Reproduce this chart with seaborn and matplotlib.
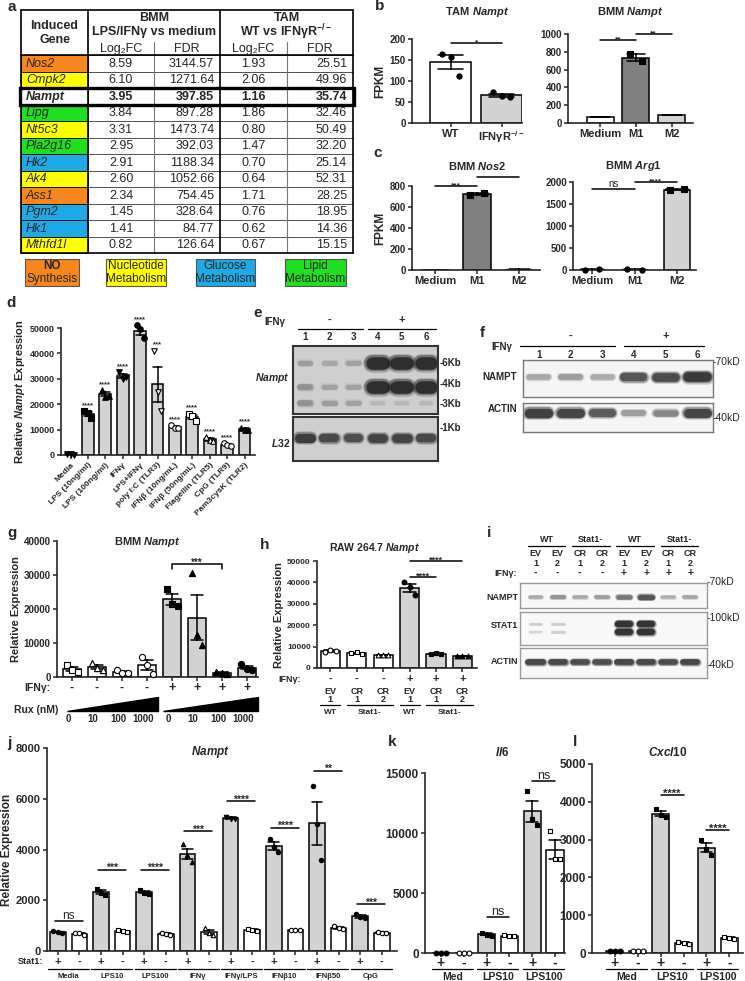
import numpy as np
import pandas as pd
import matplotlib
matplotlib.use("Agg")
import matplotlib.pyplot as plt
from matplotlib.patches import Rectangle
import seaborn as sns

# ---------------- data ----------------
# a: induced genes table
genes = ['Nos2', 'Cmpk2', 'Nampt', 'Lipg', 'Nt5c3', 'Pla2g16', 'Hk2', 'Ak4',
         'Ass1', 'Pgm2', 'Hk1', 'Mthfd1l']
gene_class = ['NO', 'Nuc', 'none', 'Lipid', 'Nuc', 'Lipid', 'Glu', 'Nuc',
              'NO', 'Glu', 'Glu', 'Nuc']
bmm_log2fc = [8.59, 6.10, 3.95, 3.84, 3.31, 2.95, 2.91, 2.60, 2.34, 1.45, 1.41, 0.82]
bmm_fdr = [3144.57, 1271.64, 397.85, 897.28, 1473.74, 392.03, 1188.34, 1052.66,
           754.45, 328.64, 84.77, 126.64]
tam_log2fc = [1.93, 2.06, 1.16, 1.86, 0.80, 1.47, 0.70, 0.64, 1.71, 0.76, 0.62, 0.67]
tam_fdr = [25.51, 49.96, 35.74, 32.46, 50.49, 32.20, 25.14, 52.31, 28.25, 18.95,
           14.36, 15.15]
class_colors = {'NO': '#F7861C', 'Nuc': '#FFFF00', 'Glu': '#1EAAE7',
                'Lipid': '#1FE01F', 'none': 'white'}
legend_classes = ['NO', 'Nuc', 'Glu', 'Lipid']
legend_text = {'NO': ('NO', 'Synthesis'), 'Nuc': ('Nucleotide', 'Metabolism'),
               'Glu': ('Glucose', 'Metabolism'), 'Lipid': ('Lipid', 'Metabolism')}

# b / c: FPKM
tam_groups = ['WT', 'IFNγR$^{-/-}$']
tam_vals = [[165, 157, 113], [73, 64, 62]]
bmm_groups = ['Medium', 'M1', 'M2']
bmm_nampt = [[72, 68], [770, 700], [92, 88]]
bmm_nos2 = [[2, 3], [715, 735], [4, 5]]
bmm_arg1 = [[10, 12], [12, 10], [1810, 1845]]

# d: stimuli
d_labels = ['Media', 'LPS (10ng/ml)', 'LPS (100ng/ml)', 'IFNγ', 'LPS+IFNγ',
            'poly I:C (TLR3)', 'IFNβ (10ng/mL)', 'IFNβ (50ng/mL)',
            'Flagellin (TLR5)', 'CpG (TLR9)', 'Pam3cysK (TLR2)']
d_vals = [[300, 200, 100], [17200, 16500, 14500], [25500, 23000, 23200],
          [32500, 30000, 30700], [51000, 49500, 46000], [41000, 25000, 17500],
          [11800, 10800, 10600], [16200, 15200, 13200], [7100, 6000, 5400],
          [4600, 4000, 3600], [10800, 10000, 9800]]
d_stars = ['', '****', '****', '****', '****', '***', '****', '****', '****',
           '****', '****']
d_markers = ['v', 's', '^', 'v', 'o', 'v', 'o', 's', '^', 'o', '^']
d_mfill = [True, True, True, True, True, False, False, False, False, False, True]

# e / f / i: blot band intensities (0..1)
e_nampt_6kb = [0.22, 0.18, 0.2, 1.0, 1.0, 1.0]
e_nampt_4kb = [0.28, 0.2, 0.2, 1.0, 1.0, 1.0]
e_nampt_3kb = [0.28, 0.22, 0.2, 0.1, 0.1, 0.1]
e_l32 = [0.85, 0.75, 0.7, 0.8, 0.8, 0.75]
f_nampt = [0.3, 0.35, 0.28, 0.75, 0.8, 0.95]
f_actin = [0.9, 0.85, 0.7, 0.35, 0.45, 0.85]
i_nampt = [0.3, 0.4, 0.3, 0.35, 0.55, 0.75, 0.28, 0.32]
i_stat1_up = [0.15, 0.15, 0, 0, 1.0, 1.0, 0, 0]
i_stat1_low = [0.12, 0.15, 0, 0, 1.0, 1.0, 0, 0]
i_actin = [0.85, 0.85, 0.8, 0.8, 0.85, 0.85, 0.8, 0.85]
i_geno = ['WT', 'Stat1-', 'WT', 'Stat1-']
i_vec = ['EV', 'EV', 'CR', 'CR', 'EV', 'EV', 'CR', 'CR']
i_num = ['1', '2', '1', '2', '1', '2', '1', '2']
i_ifn = ['-', '-', '-', '-', '+', '+', '+', '+']

# g: ruxolitinib
g_vals = [[3500, 2000, 1500], [4000, 2600, 2000], [2100, 1300, 1100],
          [6000, 3500, 1000], [26000, 21500, 21000], [30500, 12500, 9500],
          [1500, 1200, 1000], [3800, 2500, 2000]]
g_ifn = ['-', '-', '-', '-', '+', '+', '+', '+']
g_rux = ['0', '10', '100', '1000', '0', '10', '100', '1000']
g_markers = ['s', '^', 'o', 'o', 's', '^', '^', 'o']
g_mfill = [False, False, False, False, True, True, True, True]

# h: RAW 264.7
h_vals = [[7500, 8500, 7900], [7000, 7400, 6500], [6100, 5900, 6200],
          [40000, 38000, 34000], [6500, 6800, 6600], [5600, 5500, 5800]]
h_ifn = ['-', '-', '-', '+', '+', '+']
h_vec = ['EV', 'CR', 'CR', 'EV', 'CR', 'CR']
h_num = ['1', '1', '2', '1', '1', '2']
h_geno = [(0, 0, 'WT'), (1, 2, 'Stat1-'), (3, 3, 'WT'), (4, 5, 'Stat1-')]
h_markers = ['o', 's', '^', 'o', 's', '^']
h_mfill = [False, False, False, True, True, True]

# j: Nampt, Stat1 +/-
j_groups = ['Media', 'LPS10', 'LPS100', 'IFNγ', 'IFNγ/LPS', 'IFNβ10', 'IFNβ50', 'CpG']
j_pos = [[780, 750, 720], [2450, 2300, 2200], [2420, 2300, 2250], [4200, 3800, 3500],
         [5300, 5200, 5200], [4400, 4100, 3900], [6500, 5000, 3600], [1450, 1330, 1300]]
j_neg = [[700, 690, 650], [820, 780, 760], [720, 680, 650], [900, 700, 650],
         [870, 820, 780], [840, 830, 830], [1000, 900, 870], [750, 720, 710]]
j_sig = ['ns', '***', '****', '***', '****', '****', '**', '***']
j_sig_y = [1180, 3200, 3200, 4730, 5900, 4850, 7100, 1850]

# k / l
kl_groups = ['Med', 'LPS10', 'LPS100']
k_pos = [[30, 25, 20], [1700, 1500, 1450], [13500, 11200, 10700]]
k_neg = [[20, 25, 20], [1500, 1450, 1400], [10200, 7800, 7800]]
k_sig = ['', 'ns', 'ns']
k_sig_y = [0, 3000, 14300]
l_pos = [[60, 50, 55], [3800, 3650, 3600], [3000, 2750, 2600]]
l_neg = [[60, 55, 50], [300, 270, 250], [430, 400, 380]]
l_sig = ['', '****', '****']
l_sig_y = [0, 4180, 3250]

GRAY = '#d3d3d3'

# ---------------- style ----------------
sns.set_style("ticks")
plt.rcParams['font.family'] = ['Liberation Sans', 'DejaVu Sans']
plt.rcParams['font.weight'] = 'bold'
plt.rcParams['axes.labelweight'] = 'bold'
plt.rcParams['mathtext.fontset'] = 'custom'
plt.rcParams['mathtext.rm'] = 'Liberation Sans:bold'
plt.rcParams['mathtext.it'] = 'Liberation Sans:italic:bold'
plt.rcParams['mathtext.bf'] = 'Liberation Sans:bold'
plt.rcParams['mathtext.default'] = 'rm'

W, H = 745, 981
fig = plt.figure(figsize=(7.45, 9.81), dpi=100)

ov = fig.add_axes([0, 0, 1, 1])
ov.set_xlim(0, W)
ov.set_ylim(H, 0)
ov.axis('off')


def add_ax(x0, y0, x1, y1):
    ax = fig.add_axes([x0 / W, 1 - y1 / H, (x1 - x0) / W, (y1 - y0) / H])
    ax.px = (x0, y0, x1, y1)
    ax.set_facecolor('none')
    return ax


def fy(ax, py):
    x0, y0, x1, y1 = ax.px
    return (y1 - py) / (y1 - y0)


def under(ax, x, py, s, **kw):
    ax.text(x, fy(ax, py), s, transform=ax.get_xaxis_transform(), ha='center',
            va='center', clip_on=False, **kw)


def uline(ax, xa, xb, py, lw=0.9):
    ax.plot([xa, xb], [fy(ax, py)] * 2, transform=ax.get_xaxis_transform(),
            color='k', lw=lw, clip_on=False)


def bar_points(ax, vals, fills, markers, mfill, width=0.72, ms=14, jit=0.17):
    keys = [f'g{i}' for i in range(len(vals))]
    df = pd.DataFrame([(k, v) for k, vs in zip(keys, vals) for v in vs],
                      columns=['grp', 'val'])
    sns.barplot(data=df, x='grp', y='val', hue='grp', order=keys, hue_order=keys,
                palette=dict(zip(keys, fills)), legend=False, errorbar='se',
                capsize=0.5, width=width, saturation=1, edgecolor='k', linewidth=1.1,
                err_kws={'color': 'k', 'linewidth': 1.1}, ax=ax)
    for i, vs in enumerate(vals):
        if markers[i] is None:
            continue
        off = np.linspace(-jit, jit, len(vs))
        ax.scatter(i + off, vs, marker=markers[i], s=ms,
                   facecolors='k' if mfill[i] else 'white', edgecolors='k',
                   linewidths=0.8, zorder=4, clip_on=False)


def prism(ax, ylim, yticks, xlim, n, fs=7):
    ax.set_xlim(*xlim)
    ax.set_ylim(*ylim)
    ax.set_yticks(yticks, [f'{t:g}' for t in yticks])
    ax.set_xticks(range(n), [''] * n)
    sns.despine(ax=ax)
    for s in ['left', 'bottom']:
        ax.spines[s].set_linewidth(1.2)
    ax.tick_params(axis='both', direction='out', length=3, width=1.1, pad=1.5,
                   labelsize=fs)
    ax.set_xlabel('')
    ax.set_ylabel('')


def sig(ax, x1, x2, y, txt, fs=6, drop=0, ext=0.0):
    ax.plot([x1 - ext, x1 - ext, x2 + ext, x2 + ext], [y - drop, y, y, y - drop],
            color='k', lw=1.1, clip_on=False)
    if txt == 'ns':
        ax.annotate(txt, ((x1 + x2) / 2, y), xytext=(0, 1.5), textcoords='offset points',
                    ha='center', va='baseline', fontsize=fs + 1, weight='normal')
    else:
        ax.annotate(txt, ((x1 + x2) / 2, y), xytext=(0, -1), textcoords='offset points',
                    ha='center', va='baseline', fontsize=fs)


def blot(box, rows, ypos, bg, lwb, lwg, half=0.3, edge='#666', elw=1.0, xlim=None):
    ax = add_ax(*box)
    n = len(rows[0])
    ax.set_xlim(*(xlim or (0.5, n + 0.5)))
    ax.set_ylim(1, 0)
    ax.set_facecolor(bg)
    ax.set_xticks([])
    ax.set_yticks([])
    for s in ax.spines.values():
        s.set_color(edge)
        s.set_linewidth(elw)
        s.set_visible(True)
    for row, yy in zip(rows, ypos):
        for lane, inten in enumerate(row, start=1):
            if inten <= 0:
                continue
            for k, a in [(1.35, 0.2), (1.15, 0.35), (0.9, 0.7)]:
                ax.plot([lane - half, lane + half], [yy, yy], color='#111',
                        alpha=min(1, inten * a), lw=(lwb + lwg * inten) * k,
                        solid_capstyle='round')
    return ax


def letter(x, y, s):
    ov.text(x, y, s, fontsize=11, ha='center', va='center')


# ---------------- a: table ----------------
letter(12, 7, 'a')
xe = [21, 88, 154, 220, 287, 353]
top, sub, hdr, rh = 10, 42, 55, 16.5
bottom = hdr + rh * len(genes)
for i, g in enumerate(genes):
    y = hdr + i * rh
    bold = 'bold' if g == 'Nampt' else 'normal'
    ov.add_patch(Rectangle((xe[0], y), xe[1] - xe[0], rh,
                           facecolor=class_colors[gene_class[i]], edgecolor='k', lw=0.6))
    ov.plot([xe[1], xe[5]], [y, y], color='#333', lw=0.6)
    ym = y + rh / 2 + 0.5
    ov.text(xe[0] + 5, ym, g, style='italic', weight=bold, va='center', fontsize=9)
    ov.text((xe[1] + xe[2]) / 2, ym, f'{bmm_log2fc[i]:.2f}', ha='center', va='center',
            fontsize=9, weight=bold)
    ov.text(xe[3] - 6, ym, f'{bmm_fdr[i]:.2f}', ha='right', va='center', fontsize=9,
            weight=bold)
    ov.text((xe[3] + xe[4]) / 2, ym, f'{tam_log2fc[i]:.2f}', ha='center', va='center',
            fontsize=9, weight=bold)
    ov.text(xe[5] - 6, ym, f'{tam_fdr[i]:.2f}', ha='right', va='center', fontsize=9,
            weight=bold)
    if g == 'Nampt':
        ov.add_patch(Rectangle((xe[0] - 1, y), xe[5] - xe[0] + 2, rh, fill=False,
                               edgecolor='k', lw=2.4, zorder=5))
for x in [xe[0], xe[1], xe[3], xe[5]]:
    ov.plot([x, x], [top, bottom], color='k', lw=1.2)
for x in [xe[2], xe[4]]:
    ov.plot([x, x], [sub, bottom], color='#777', lw=0.8)
for y in [top, hdr, bottom]:
    ov.plot([xe[0], xe[5]], [y, y], color='k', lw=1.2)
ov.text((xe[0] + xe[1]) / 2, 33, 'Induced\nGene', ha='center', va='center', fontsize=9,
        linespacing=1.15)
ov.text((xe[1] + xe[3]) / 2, 18, 'BMM', ha='center', va='center', fontsize=9)
ov.text((xe[1] + xe[3]) / 2, 32, 'LPS/IFNγ vs medium', ha='center', va='center', fontsize=9)
ov.text((xe[3] + xe[5]) / 2, 18, 'TAM', ha='center', va='center', fontsize=9)
ov.text((xe[3] + xe[5]) / 2, 32, 'WT vs IFNγR$^{-/-}$', ha='center', va='center',
        fontsize=9)
for xa, xb in [(xe[1], xe[2]), (xe[3], xe[4])]:
    ov.text((xa + xb) / 2, 49, 'Log₂FC', ha='center', va='center',
            fontsize=9, weight='normal')
for xa, xb in [(xe[2], xe[3]), (xe[4], xe[5])]:
    ov.text((xa + xb) / 2, 49, 'FDR', ha='center', va='center', fontsize=9,
            weight='normal')

leg_boxes = [(25, 79), (106, 166), (196, 255), (285, 346)]
for c, (xa, xb) in zip(legend_classes, leg_boxes):
    ov.add_patch(Rectangle((xa, 259), xb - xa, 27, facecolor=class_colors[c],
                           edgecolor='#555', lw=0.8))
    l1, l2 = legend_text[c]
    ov.text((xa + xb) / 2, 266, l1, ha='center', va='center', fontsize=8.5,
            weight='bold' if c == 'NO' else 'normal')
    ov.text((xa + xb) / 2, 279, l2, ha='center', va='center', fontsize=8.5,
            weight='normal')

# ---------------- b ----------------
letter(380, 6, 'b')
ov.text(477, 12, 'TAM $\\mathit{Nampt}$', ha='center', va='center', fontsize=8)
ax = add_ax(412, 39, 522, 123)
bar_points(ax, tam_vals, ['white', GRAY], ['o', 'o'], [True, True], width=0.8)
prism(ax, (0, 200), [0, 50, 100, 150, 200], (-0.76, 1.4), 2)
ax.set_xticks([0, 1], tam_groups, fontsize=8)
ax.set_ylabel('FPKM', fontsize=8.5, labelpad=2)
sig(ax, 0, 1, 191, '*')

ov.text(630, 12, 'BMM $\\mathit{Nampt}$', ha='center', va='center', fontsize=8)
ax = add_ax(568, 34, 693, 123)
bar_points(ax, bmm_nampt, ['white', '#808080', GRAY], [None, 's', None], [True] * 3,
           width=0.75)
prism(ax, (0, 1000), [0, 200, 400, 600, 800, 1000], (-0.9, 2.6), 3)
ax.set_xticks([0, 1, 2], bmm_groups, fontsize=8)
sig(ax, 0, 1, 930, '**')
sig(ax, 1, 2, 1000, '**')

# ---------------- c ----------------
letter(378, 153, 'c')
ov.text(477, 166, 'BMM $\\mathit{Nos2}$', ha='center', va='center', fontsize=8)
ax = add_ax(412, 186, 540, 270)
bar_points(ax, bmm_nos2, ['white', '#808080', GRAY], [None, 's', None], [True] * 3,
           width=0.67)
prism(ax, (0, 800), [0, 200, 400, 600, 800], (-0.55, 2.5), 3)
ax.set_xticks([0, 1, 2], bmm_groups, fontsize=8)
ax.set_ylabel('FPKM', fontsize=8.5, labelpad=2)
sig(ax, 0, 1, 800, '***')
sig(ax, 1, 2, 890, '***')

ov.text(633, 166, 'BMM $\\mathit{Arg1}$', ha='center', va='center', fontsize=8)
ax = add_ax(573, 182, 696, 270)
bar_points(ax, bmm_arg1, ['white', '#808080', GRAY], ['o', 'o', 's'], [True] * 3,
           width=0.63)
prism(ax, (0, 2000), [0, 500, 1000, 1500, 2000], (-0.45, 2.45), 3)
ax.set_xticks([0, 1, 2], bmm_groups, fontsize=8)
sig(ax, 0, 1, 1840, 'ns')
sig(ax, 1, 2, 2000, '****')

# ---------------- d ----------------
letter(11, 303, 'd')
ax = add_ax(61, 328, 255, 455)
bar_points(ax, d_vals, [GRAY] * len(d_vals), d_markers, d_mfill, width=0.68, ms=16,
           jit=0.2)
prism(ax, (0, 50000), [0, 10000, 20000, 30000, 40000, 50000], (-0.55, 10.6),
      len(d_vals), fs=6.5)
ax.set_xticks(range(len(d_labels)), d_labels, rotation=45, ha='right',
              rotation_mode='anchor', fontsize=6)
ax.set_ylabel('Relative $\\mathit{Nampt}$ Expression', fontsize=8, labelpad=2)
for i, (vs, st) in enumerate(zip(d_vals, d_stars)):
    if st:
        m = np.mean(vs)
        se = np.std(vs, ddof=1) / np.sqrt(len(vs))
        ax.annotate(st, (i, max(max(vs), m + se)), xytext=(0, 3),
                    textcoords='offset points', ha='center', va='baseline',
                    fontsize=5.5, annotation_clip=False)

# ---------------- e ----------------
letter(258, 313, 'e')
ax = blot((293, 346, 438, 414), [e_nampt_6kb, e_nampt_4kb, e_nampt_3kb],
          [0.25, 0.61, 0.84], '#cfcfcf', 2.5, 7.5, half=0.22, edge='#333', elw=1.5)
ov.text(275, 322, 'IFNγ', ha='center', va='center', fontsize=7)
for lane in range(1, 7):
    under(ax, lane, 337, str(lane), fontsize=7)
uline(ax, 0.7, 3.4, 329)
uline(ax, 3.6, 6.4, 329)
under(ax, 2, 320, '-', fontsize=8)
under(ax, 5, 320, '+', fontsize=8)
ax = blot((293, 417, 438, 461), [e_l32], [0.48], '#cfcfcf', 3, 5, half=0.24,
          edge='#333', elw=1.5)
ov.text(290, 378, '$\\mathit{Nampt}$', ha='right', va='center', fontsize=7.5)
ov.text(290, 443, '$\\mathit{L32}$', ha='right', va='center', fontsize=7.5)
for lab, py in [('-6Kb', 363), ('-4Kb', 384), ('-3Kb', 404), ('-1Kb', 428)]:
    ov.text(440, py, lab, ha='left', va='center', fontsize=7)

# ---------------- f ----------------
letter(482, 333, 'f')
ax = blot((523, 360, 713, 397), [f_nampt], [0.45], '#f5f5f5', 3, 5, half=0.3,
          edge='#777')
ov.text(502, 347, 'IFNγ', ha='center', va='center', fontsize=7)
for lane in range(1, 7):
    under(ax, lane, 355, str(lane), fontsize=7)
uline(ax, 0.4, 3.4, 346)
uline(ax, 3.7, 6.2, 346)
under(ax, 2, 336, '-', fontsize=8)
under(ax, 5, 336, '+', fontsize=8)
blot((523, 403, 713, 432), [f_actin], [0.35], '#f5f5f5', 3, 5, half=0.3, edge='#777')
ov.text(517, 377, 'NAMPT', ha='right', va='center', fontsize=7)
ov.text(517, 409, 'ACTIN', ha='right', va='center', fontsize=7)
ov.text(713, 362, '-70kD', ha='left', va='center', fontsize=7.5, weight='normal')
ov.text(713, 418, '-40kD', ha='left', va='center', fontsize=7.5, weight='normal')

# ---------------- g ----------------
letter(12, 533, 'g')
ov.text(147, 542, 'BMM $\\mathit{Nampt}$', ha='center', va='center', fontsize=8)
ax = add_ax(57, 541, 258, 677)
bar_points(ax, g_vals, ['white'] * 4 + [GRAY] * 4, g_markers, g_mfill, width=0.7,
           ms=20, jit=0.22)
prism(ax, (0, 40000), [0, 10000, 20000, 30000, 40000], (-0.6, 7.44), 8, fs=7)
ax.set_ylabel('Relative Expression', fontsize=8, labelpad=2)
sig(ax, 4, 6, 33200, '***', fs=7, drop=1500)
ov.text(50, 688, 'IFNγ:', ha='right', va='center', fontsize=7.5)
for i, s in enumerate(g_ifn):
    under(ax, i, 688, s, fontsize=9)
ov.text(14, 710, 'Rux (nM)', ha='left', va='center', fontsize=7.5)
xt = ax.get_xaxis_transform()
for xa, xb in [(-0.2, 3.45), (3.65, 7.44)]:
    ax.fill([xa, xb, xb], [fy(ax, 711), fy(ax, 711), fy(ax, 697)], transform=xt,
            color='k', clip_on=False)
for i, s in enumerate(g_rux):
    under(ax, i - 0.15, 719, s, fontsize=7)

# ---------------- h ----------------
letter(265, 545, 'h')
ov.text(375, 548, 'RAW 264.7 $\\mathit{Nampt}$', ha='center', va='center', fontsize=7.5)
ax = add_ax(317, 561, 477, 668)
bar_points(ax, h_vals, ['white'] * 3 + [GRAY] * 3, h_markers, h_mfill, width=0.72,
           ms=12, jit=0.2)
prism(ax, (0, 50000), [0, 10000, 20000, 30000, 40000, 50000], (-0.5, 5.55), 6, fs=6)
ax.set_ylabel('Relative Expression', fontsize=8, labelpad=2)
sig(ax, 3, 4, 42500, '****', fs=6.5)
sig(ax, 3, 5, 50000, '****', fs=6.5)
ov.text(301, 679, 'IFNγ:', ha='right', va='center', fontsize=6.5)
for i in range(len(h_ifn)):
    under(ax, i, 679, h_ifn[i], fontsize=8)
    under(ax, i, 691, h_vec[i], fontsize=6.5)
    under(ax, i, 700, h_num[i], fontsize=6.5)
for a, b, lab in h_geno:
    uline(ax, a - 0.38, b + 0.38, 705)
    under(ax, (a + b) / 2, 712, lab, fontsize=6)

# ---------------- i ----------------
letter(489, 533, 'i')
ixl = (0.3, 8.75)
ax = blot((520, 583, 707, 608), [i_nampt], [0.55], '#f8f8f8', 2, 3, half=0.27,
          edge='#999', xlim=ixl)
for k, lab in enumerate(i_geno):
    under(ax, 2 * k + 1.5, 539, lab, fontsize=6.5)
    uline(ax, 2 * k + 0.65, 2 * k + 2.35, 546)
for lane in range(8):
    under(ax, lane + 1, 553, i_vec[lane], fontsize=6.5)
    under(ax, lane + 1, 563, i_num[lane], fontsize=6.5)
    under(ax, lane + 1, 573, i_ifn[lane], fontsize=7.5)
ov.text(517, 573, 'IFNγ:', ha='right', va='center', fontsize=6.5)
blot((520, 612, 707, 645), [i_stat1_up, i_stat1_low], [0.36, 0.62], '#f8f8f8', 1.5, 3.5,
     half=0.27, edge='#999', xlim=ixl)
blot((520, 648, 707, 678), [i_actin], [0.47], '#f8f8f8', 2, 3, half=0.32, edge='#999',
     xlim=ixl)
for lab, py in [('NAMPT', 597), ('STAT1', 625), ('ACTIN', 662)]:
    ov.text(518, py, lab, ha='right', va='center', fontsize=6.5)
for lab, py in [('-70kD', 582), ('-100kD', 618), ('-40kD', 665)]:
    ov.text(707, py, lab, ha='left', va='center', fontsize=7.5, weight='normal')

# ---------------- j ----------------
letter(9, 743, 'j')
ov.text(210, 752, '$\\mathit{Nampt}$', ha='center', va='center', fontsize=8.5)
ax = add_ax(47, 748, 397, 951)
j_vals = [v for p, n in zip(j_pos, j_neg) for v in (p, n)]
j_fill = [GRAY, 'white'] * len(j_groups)
j_mk = ['o', 'o', 's', 's', 's', 'o', '^', '^', 'v', 's', 'o', 'o', 'o', 'o', 'o', 'o']
j_mf = [True, False] * len(j_groups)
bar_points(ax, j_vals, j_fill, j_mk, j_mf, width=0.72, ms=10, jit=0.2)
prism(ax, (0, 8000), [0, 2000, 4000, 6000, 8000], (-0.5, 15.7), 16, fs=8)
ax.set_ylabel('Relative Expression', fontsize=8.5, labelpad=2)
for k, (s, yy) in enumerate(zip(j_sig, j_sig_y)):
    sig(ax, 2 * k - 0.15, 2 * k + 1.15, yy, s, fs=7.5)
ov.text(43, 962, 'Stat1:', ha='right', va='center', fontsize=6.5)
for k, g in enumerate(j_groups):
    under(ax, 2 * k, 962, '+', fontsize=8)
    under(ax, 2 * k + 1, 962, '-', fontsize=8)
    uline(ax, 2 * k - 0.45, 2 * k + 1.45, 969)
    under(ax, 2 * k + 0.5, 976, g, fontsize=5.5)


# ---------------- k / l ----------------
def stat_pair(box, pos, neg, sigs, sig_y, ylim, yticks, xlim, title, tx):
    ax = add_ax(*box)
    vals = [v for p, n in zip(pos, neg) for v in (p, n)]
    mk = ['o', 'o', 's', 's', 's', 's']
    mf = [True, False] * 3
    bar_points(ax, vals, [GRAY, 'white'] * 3, mk, mf, width=0.75, ms=12, jit=0.22)
    prism(ax, ylim, yticks, xlim, 6, fs=8.5)
    for k, (s, yy) in enumerate(zip(sigs, sig_y)):
        if s:
            sig(ax, 2 * k, 2 * k + 1, yy, s, fs=8)
    for k, g in enumerate(kl_groups):
        under(ax, 2 * k, 963, '+', fontsize=10)
        under(ax, 2 * k + 1, 963, '-', fontsize=10)
        uline(ax, 2 * k - 0.4, 2 * k + 1.4, 969)
        under(ax, 2 * k + 0.5, 977, g, fontsize=7.5)
    ov.text(tx, 752, title, ha='center', va='center', fontsize=8.5)
    return ax


letter(392, 742, 'k')
stat_pair((425, 773, 565, 953), k_pos, k_neg, k_sig, k_sig_y, (0, 15000),
          [0, 5000, 10000, 15000], (-0.7, 5.44), '$\\mathit{Il6}$', 502)
letter(575, 742, 'l')
stat_pair((592, 764, 743, 953), l_pos, l_neg, l_sig, l_sig_y, (0, 5000),
          [0, 1000, 2000, 3000, 4000, 5000], (-1.0, 5.6), '$\\mathit{Cxcl10}$', 668)

for a in fig.axes:
    for lab in a.get_xticklabels() + a.get_yticklabels():
        lab.set_fontweight('bold')

fig.savefig('out.png', dpi=100)
